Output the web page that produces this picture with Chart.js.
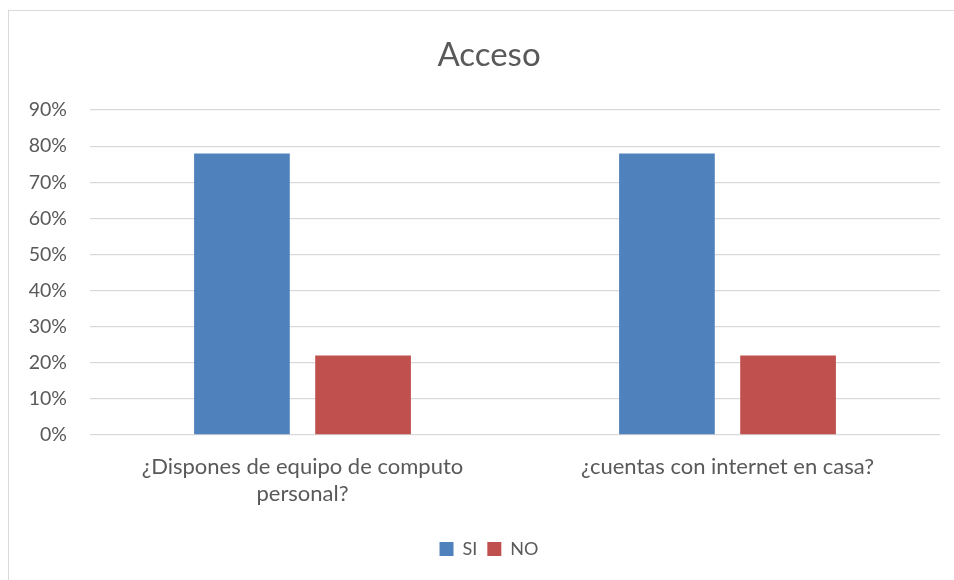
<!DOCTYPE html>
<html>
<head>
<meta charset="utf-8">
<script src="https://cdn.jsdelivr.net/npm/chart.js@4.4.0/dist/chart.umd.min.js"></script>
<style>
    html, body { margin: 0; padding: 0; background: #fff; }
    #wrap { position: relative; width: 954px; height: 580px; }
    #frame {
        position: absolute; left: 8px; top: 10px; width: 1000px; height: 700px;
        border-left: 1px solid #d9d9d9; border-top: 1px solid #d9d9d9;
        pointer-events: none;
    }
</style>
</head>
<body>
<div id="wrap">
    <canvas id="chart" width="954" height="580"></canvas>
    <div id="frame"></div>
</div>
<script>
const categories = [
    ['¿Dispones de equipo de computo', 'personal?'],
    '¿cuentas con internet en casa?',
];
const siValues = [78, 78];
const noValues = [22, 22];
const yTicks = [0, 10, 20, 30, 40, 50, 60, 70, 80, 90];

const textColor = '#595959';
const fontFamily = 'Lato, "Open Sans", sans-serif';

new Chart(document.getElementById('chart').getContext('2d'), {
    type: 'bar',
    data: {
        labels: categories,
        datasets: [
            {
                label: 'SI',
                backgroundColor: '#4F81BD',
                data: siValues,
            },
            {
                label: 'NO',
                backgroundColor: '#C0504D',
                data: noValues,
            },
        ],
    },
    options: {
        responsive: false,
        animation: false,
        categoryPercentage: 0.57,
        barPercentage: 0.79,
        layout: {
            // the original frame runs past the right edge, so title and legend
            // are centred a bit right of the canvas middle
            padding: { left: 0, right: -24, top: 0, bottom: 12 },
        },
        plugins: {
            title: {
                display: true,
                text: 'Acceso',
                color: textColor,
                font: { family: fontFamily, size: 33, weight: 'normal' },
                padding: { top: 36, bottom: 34.5 },
            },
            legend: {
                position: 'bottom',
                labels: {
                    color: textColor,
                    boxWidth: 14,
                    boxHeight: 14,
                    padding: 10,
                    font: { family: fontFamily, size: 18 },
                },
            },
            tooltip: { enabled: false },
        },
        scales: {
            y: {
                min: 0,
                max: 90,
                afterBuildTicks: (scale) => {
                    scale.ticks = yTicks.map((v) => ({ value: v }));
                },
                afterFit: (scale) => {
                    scale.width = 90;
                },
                ticks: {
                    color: textColor,
                    padding: 23,
                    font: { family: fontFamily, size: 19.5 },
                    callback: (value) => value + '%',
                },
                grid: {
                    color: '#d9d9d9',
                    lineWidth: 1.3,
                    drawTicks: false,
                },
                border: { display: false },
            },
            // empty spacer on the right
            yRight: {
                position: 'right',
                afterFit: (scale) => {
                    scale.width = 38;
                },
                ticks: { display: false },
                grid: { display: false, drawTicks: false },
                border: { display: false },
            },
            x: {
                afterFit: (scale) => {
                    scale.height += 4;
                },
                ticks: {
                    color: textColor,
                    padding: 18.5,
                    maxRotation: 0,
                    font: { family: fontFamily, size: 22, lineHeight: 1.23 },
                },
                grid: { display: false, drawTicks: false },
                border: { display: false },
            },
        },
    },
});
</script>
</body>
</html>
